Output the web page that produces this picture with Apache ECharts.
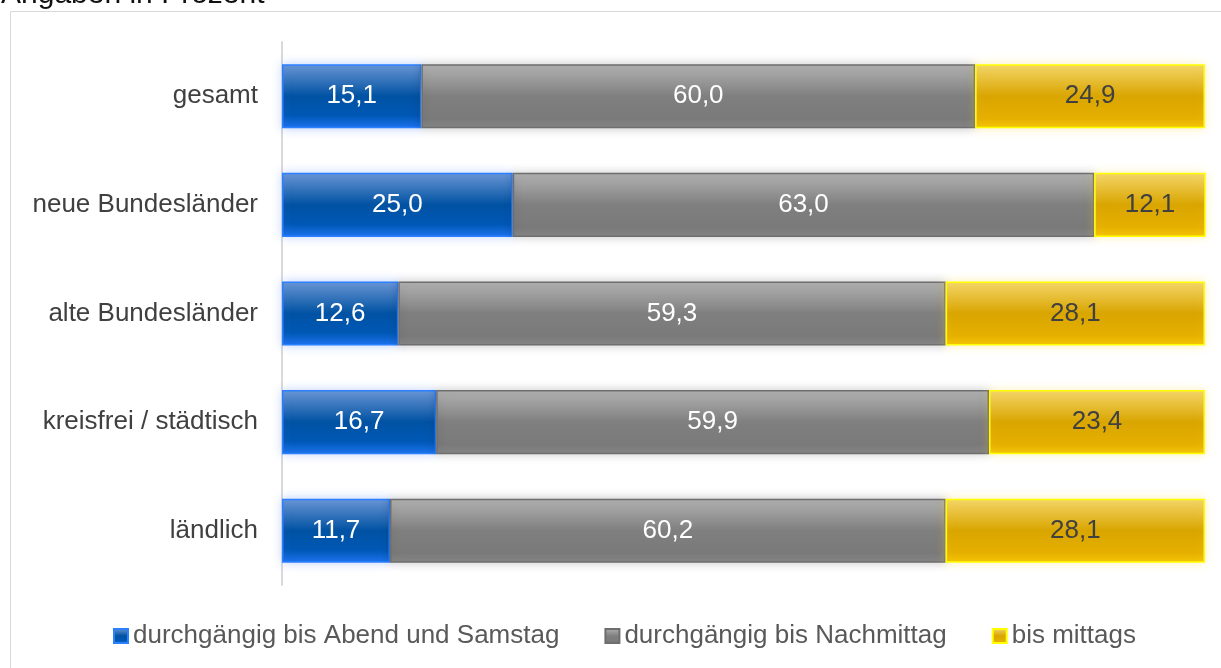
<!DOCTYPE html>
<html>
<head>
<meta charset="utf-8">
<script src="https://cdn.jsdelivr.net/npm/echarts@6/dist/echarts.min.js"></script>
<style>
  html, body { margin: 0; padding: 0; background: #fff; }
  #main { width: 1221px; height: 668px; }
</style>
</head>
<body>
<div id="main"></div>
<script>
var categories = ['gesamt', 'neue Bundesländer', 'alte Bundesländer', 'kreisfrei / städtisch', 'ländlich'];
var seriesNames = ['durchgängig bis Abend und Samstag', 'durchgängig bis Nachmittag', 'bis mittags'];
var abendSamstag = [15.1, 25.0, 12.6, 16.7, 11.7];
var nachmittag = [60.0, 63.0, 59.3, 59.9, 60.2];
var mittags = [24.9, 12.1, 28.1, 23.4, 28.1];

var myChart = echarts.init(document.getElementById('main'));

function fmt(p) {
    return p.value.toFixed(1).replace('.', ',');
}

function grad(stops) {
    return new echarts.graphic.LinearGradient(0, 0, 0, 1, stops);
}

var font = '"Liberation Sans", Arial, sans-serif';

var option = {
    backgroundColor: '#fff',
    textStyle: { fontFamily: font },
    title: {
        text: 'Angaben in Prozent',
        left: -4,
        top: -25,
        textStyle: { fontSize: 30, fontWeight: 'normal', color: '#111', fontFamily: font }
    },
    graphic: [{
        type: 'rect',
        shape: { x: 10.5, y: 11.5, width: 1220, height: 670 },
        style: { fill: 'none', stroke: '#d9d9d9', lineWidth: 1 },
        z: -1
    }],
    grid: { left: 282, right: 16, top: 42, bottom: 83 },
    legend: {
        bottom: 14,
        left: 108,
        icon: 'rect',
        itemWidth: 14,
        itemHeight: 14,
        itemGap: 45,
        textStyle: { fontSize: 26, color: '#595959', fontFamily: font },
        data: seriesNames
    },
    xAxis: {
        type: 'value',
        min: 0,
        max: 100,
        show: false
    },
    yAxis: {
        type: 'category',
        inverse: true,
        data: categories,
        axisLine: { lineStyle: { color: '#d9d9d9', width: 2 } },
        axisTick: { show: false },
        axisLabel: { fontSize: 26, color: '#404040', margin: 24, fontFamily: font }
    },
    series: [
        {
            name: seriesNames[0],
            type: 'bar',
            stack: 'total',
            barCategoryGap: '41%',
            data: abendSamstag,
            itemStyle: {
                color: grad([
                    { offset: 0, color: '#6b96d4' },
                    { offset: 0.5, color: '#0052a3' },
                    { offset: 0.8, color: '#0058b5' },
                    { offset: 1, color: '#1a72ee' }
                ]),
                borderColor: '#2a80ff',
                borderWidth: 1.5,
                shadowColor: 'rgba(90,140,255,0.35)',
                shadowBlur: 10
            },
            label: { show: true, formatter: fmt, fontSize: 26, color: '#fff', fontFamily: font }
        },
        {
            name: seriesNames[1],
            type: 'bar',
            stack: 'total',
            data: nachmittag,
            itemStyle: {
                color: grad([
                    { offset: 0, color: '#b3b3b3' },
                    { offset: 0.5, color: '#7f7f7f' },
                    { offset: 0.85, color: '#7a7a7a' },
                    { offset: 1, color: '#8a8a8a' }
                ]),
                borderColor: '#6e6e6e',
                borderWidth: 1.5,
                shadowColor: 'rgba(0,0,0,0.2)',
                shadowBlur: 10
            },
            label: { show: true, formatter: fmt, fontSize: 26, color: '#fff', fontFamily: font }
        },
        {
            name: seriesNames[2],
            type: 'bar',
            stack: 'total',
            data: mittags,
            itemStyle: {
                color: grad([
                    { offset: 0, color: '#f4d66a' },
                    { offset: 0.5, color: '#d9a500' },
                    { offset: 0.85, color: '#e6b000' },
                    { offset: 1, color: '#f5c400' }
                ]),
                borderColor: '#ffff00',
                borderWidth: 1.5,
                shadowColor: 'rgba(255,220,80,0.35)',
                shadowBlur: 10
            },
            label: { show: true, formatter: fmt, fontSize: 26, color: '#404040', fontFamily: font }
        }
    ]
};

myChart.setOption(option);
</script>
</body>
</html>
